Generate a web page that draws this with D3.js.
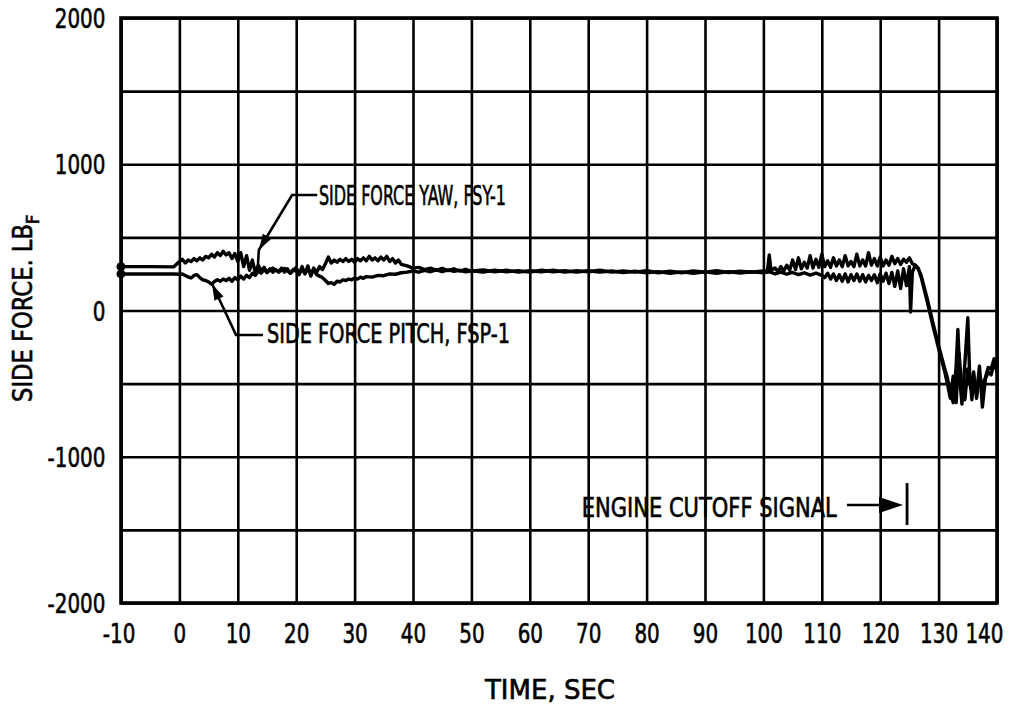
<!DOCTYPE html>
<html>
<head>
<meta charset="utf-8">
<script src="https://cdn.jsdelivr.net/npm/d3@7/dist/d3.min.js"></script>
<style>
  html, body { margin: 0; padding: 0; background: #fff; }
  svg { display: block; }
  text { font-family: "DejaVu Sans Condensed", "DejaVu Sans", sans-serif; font-weight: normal; fill: #000; stroke: #000; stroke-width: 0.6px; }
</style>
</head>
<body>
<svg id="chart" width="1027" height="707"></svg>
<script>
// ---------- data ----------
const xTicks = [-10, 0, 10, 20, 30, 40, 50, 60, 70, 80, 90, 100, 110, 120, 130, 140];
const yGrid = [-2000, -1500, -1000, -500, 0, 500, 1000, 1500, 2000];
const yLabels = [-2000, -1000, 0, 1000, 2000];

// Side force yaw, FSY-1  [time s, force lbf]
const yawSeries = [
  [-10,300],[-5,300],[-1,298],[0,335],[0.5,350],[1,325],[1.5,345],[2,335],[2.5,355],[3,340],[3.5,360],[4,345],[4.5,370],
  [5,360],[5.5,385],[6,365],[6.5,395],[7,375],[7.5,405],[8,380],[8.5,395],[9,355],[9.5,390],[10,335],[10.5,395],
  [11,300],[11.5,375],[12,275],[12.5,345],[13,255],[13.5,310],[14,270],[14.5,295],[15,260],[16,290],[17,262],[18,288],
  [19,255],[20,295],[20.5,245],[21,300],[21.5,250],[22,305],[22.5,235],[23,290],[23.5,260],[24,300],[24.5,280],[25,320],
  [25.5,365],[26,325],[26.5,345],[27,330],[27.5,350],[28,335],[28.5,355],[29,335],[29.5,350],[30,330],[30.5,355],[31,340],
  [31.5,360],[32,340],[32.5,370],[33,345],[33.5,360],[34,340],[34.5,365],[35,345],[35.5,370],[36,335],[36.5,355],[37,325],
  [37.5,345],[38,315],[39,305],[40,290],[41,295],[42,280],[43,290],[44,275],[45,288],[46,272],[47,285],[48,270],[49,282],
  [50,268],[52,278],[54,265],[56,275],[58,262],[60,272],[62,265],[64,275],[66,262],[68,272],[70,265],[72,275],[74,262],
  [76,270],[78,262],[80,272],[82,258],[84,268],[86,258],[88,270],[90,262],[92,272],[94,260],[96,268],[98,262],[100,270],
  [100.7,272],[101,380],[101.3,275],[102,290],[102.5,265],[103,300],[103.5,270],[104,310],[104.5,275],[105,345],[105.5,280],
  [106,360],[106.5,285],[107,330],[107.5,290],[108,375],[108.5,290],[109,350],[109.5,295],[110,385],[110.5,300],[111,340],
  [111.5,295],[112,360],[112.5,305],[113,345],[113.5,300],[114,375],[114.5,305],[115,335],[115.5,300],[116,385],[116.5,305],
  [117,345],[117.5,305],[118,395],[118.5,310],[119,355],[119.5,305],[120,365],[120.5,305],[121,345],[121.5,310],[122,370],
  [122.5,320],[123,355],[123.5,315],[124,350],[124.5,330],[125,360],[125.5,320],[126,310],[126.5,285],[127,240],[128,90],
  [129,-80],[130,-240],[131,-390],[131.5,-460],[132,-560],[132.5,-630],[133,-380],[133.3,-130],[133.7,-500],[134,-640],
  [134.5,-360],[135,-50],[135.3,-420],[135.7,-610],[136,-470],[136.5,-570],[137,-380],[137.5,-660],[138,-470],[138.5,-420],
  [139,-440],[139.5,-350],[140,-420]
];

// Side force pitch, FSP-1  [time s, force lbf]
const pitchSeries = [
  [-10,250],[-5,250],[-1,250],[0,248],[0.5,250],[1,240],[1.5,230],[2,222],[2.5,240],[3,245],[3.5,225],[4,210],[4.5,205],
  [5,195],[5.5,180],[6,198],[6.5,210],[7,200],[7.5,215],[8,205],[8.5,220],[9,200],[9.5,225],[10,210],[10.5,235],[11,215],
  [11.5,240],[12,225],[12.5,255],[13,240],[13.5,270],[14,255],[14.5,280],[15,260],[15.5,285],[16,262],[16.5,280],[17,265],
  [17.5,290],[18,262],[18.5,285],[19,255],[19.5,280],[20,268],[20.5,250],[21,285],[21.5,255],[22,280],[22.5,260],[23,275],
  [23.5,245],[24,235],[24.5,225],[25,205],[25.5,185],[26,190],[26.5,180],[27,200],[27.5,195],[28,210],[28.5,205],[29,215],
  [29.5,210],[30,222],[30.5,215],[31,228],[31.5,220],[32,232],[33,228],[34,240],[35,238],[36,250],[37,248],[38,258],
  [39,262],[40,270],[41,262],[42,275],[43,265],[44,278],[45,265],[46,278],[47,268],[48,275],[49,265],[50,272],[52,262],
  [54,275],[56,265],[58,272],[60,262],[62,275],[64,265],[66,272],[68,262],[70,272],[72,262],[74,270],[76,260],[78,268],
  [80,258],[82,266],[84,255],[86,264],[88,255],[90,265],[92,255],[94,266],[96,256],[98,265],[100,258],[101,265],[102,250],
  [103,262],[104,248],[105,260],[106,245],[107,258],[108,242],[109,255],[110,240],[110.5,225],[111,255],[111.5,215],
  [112,250],[112.5,205],[113,245],[113.5,200],[114,250],[114.5,195],[115,245],[115.5,205],[116,250],[116.5,200],[117,245],
  [117.5,195],[118,240],[118.5,205],[119,245],[119.5,190],[120,250],[120.5,200],[121,255],[121.5,185],[122,260],[122.5,165],
  [123,270],[123.5,150],[124,285],[124.5,170],[125,300],[125.2,-10],[125.5,260],[126,310],[126.5,290],[127,230],[128,70],
  [129,-100],[130,-260],[131,-410],[131.5,-500],[132,-600],[132.5,-450],[133,-630],[133.5,-290],[134,-560],[134.5,-610],
  [135,-400],[135.5,-530],[136,-420],[136.5,-600],[137,-430],[137.5,-530],[138,-460],[138.5,-390],[139,-400],[139.5,-330],
  [140,-370]
];

// annotations (data units)
const yawNote = { label: "SIDE FORCE YAW, FSY-1", text: [23.9, 721], path: [[23.6, 790], [19.3, 790], [13.6, 414], [13.45, 311]] };
const pitchNote = { label: "SIDE FORCE PITCH, FSP-1", text: [15.0, -222], path: [[14.3, -168], [9.7, -168], [5.6, 181]] };
const cutoffNote = { label: "ENGINE CUTOFF SIGNAL", text: [68.9, -1412], arrowFrom: [114.3, -1330], arrowTo: [123.9, -1330], bar: [124.6, -1180, -1467] };

// ---------- layout ----------
const margin = { left: 121, right: 1027 - 997, top: 18, bottom: 707 - 603 };
const W = 1027, H = 707;
const iw = W - margin.left - margin.right;
const ih = H - margin.top - margin.bottom;

const svg = d3.select("#chart");
const g = svg.append("g").attr("transform", `translate(${margin.left},${margin.top})`);

const x = d3.scaleLinear().domain([-10, 140]).range([0, iw]);
const y = d3.scaleLinear().domain([-2000, 2000]).range([ih, 0]);

// vertical grid + x tick labels
const xAxis = d3.axisBottom(x).tickValues(xTicks).tickSize(-ih).tickPadding(0).tickFormat(d3.format("d"));
const gx = g.append("g").attr("transform", `translate(0,${ih})`).call(xAxis);
gx.select(".domain").remove();
gx.selectAll(".tick line").attr("stroke", "#000").attr("stroke-width", 2.6);
gx.selectAll(".tick text")
  .attr("y", 40).attr("dy", 0)
  .attr("font-size", 27)
  .attr("text-anchor", "middle")
  .attr("transform", "scale(0.82,1)")
  .attr("x", d => d === 140 ? -16 : (d === -10 ? -3 : 0))
  .text(d => String(d));

// horizontal grid + y tick labels
const yAxis = d3.axisLeft(y).tickValues(yGrid).tickSize(-iw).tickPadding(0)
  .tickFormat(d => yLabels.includes(d) ? String(d) : "");
const gy = g.append("g").call(yAxis);
gy.select(".domain").remove();
gy.selectAll(".tick line").attr("stroke", "#000").attr("stroke-width", 2.6);
gy.selectAll(".tick text")
  .attr("x", -19).attr("dy", "0.36em")
  .attr("font-size", 27)
  .attr("text-anchor", "end")
  .attr("transform", "scale(0.82,1)");

// frame
g.append("rect").attr("x", 0).attr("y", 0).attr("width", iw).attr("height", ih)
  .attr("fill", "none").attr("stroke", "#000").attr("stroke-width", 3.6);

// data lines
const line = d3.line().x(d => x(d[0])).y(d => y(d[1]));
[yawSeries, pitchSeries].forEach(s => {
  g.append("path").datum(s).attr("d", line)
    .attr("fill", "none").attr("stroke", "#000").attr("stroke-width", 3.4)
    .attr("stroke-linejoin", "round").attr("stroke-linecap", "round");
  g.append("circle").attr("cx", x(s[0][0])).attr("cy", y(s[0][1])).attr("r", 4.5).attr("fill", "#000");
});

// annotation helpers
function arrowHead(tip, from, len, half) {
  const dx = tip[0] - from[0], dy = tip[1] - from[1];
  const L = Math.hypot(dx, dy), ux = dx / L, uy = dy / L;
  const bx = tip[0] - ux * len, by = tip[1] - uy * len;
  return [[tip[0], tip[1]], [bx - uy * half, by + ux * half], [bx + uy * half, by - ux * half]];
}
const P = d => [x(d[0]), y(d[1])];

// yaw leader
{
  const pts = yawNote.path.map(P);
  g.append("path").attr("d", d3.line()(pts)).attr("fill", "none").attr("stroke", "#000").attr("stroke-width", 2.6);
  g.append("path").attr("d", d3.line()(arrowHead(pts[2], pts[1], 16, 5)) + "Z").attr("fill", "#000");
  g.append("text").attr("x", x(yawNote.text[0])).attr("y", y(yawNote.text[1]))
    .attr("font-size", 26).attr("textLength", 187).attr("lengthAdjust", "spacingAndGlyphs").text(yawNote.label);
}
// pitch leader
{
  const pts = pitchNote.path.map(P);
  g.append("path").attr("d", d3.line()(pts)).attr("fill", "none").attr("stroke", "#000").attr("stroke-width", 2.6);
  g.append("path").attr("d", d3.line()(arrowHead(pts[2], pts[1], 16, 5)) + "Z").attr("fill", "#000");
  g.append("text").attr("x", x(pitchNote.text[0])).attr("y", y(pitchNote.text[1]))
    .attr("font-size", 26).attr("textLength", 243).attr("lengthAdjust", "spacingAndGlyphs").text(pitchNote.label);
}
// engine cutoff
{
  const a = P(cutoffNote.arrowFrom), b = P(cutoffNote.arrowTo);
  g.append("line").attr("x1", a[0]).attr("y1", a[1]).attr("x2", b[0] - 18).attr("y2", b[1])
    .attr("stroke", "#000").attr("stroke-width", 2.6);
  g.append("path").attr("d", d3.line()(arrowHead(b, a, 24, 8)) + "Z").attr("fill", "#000");
  g.append("line").attr("x1", x(cutoffNote.bar[0])).attr("x2", x(cutoffNote.bar[0]))
    .attr("y1", y(cutoffNote.bar[1])).attr("y2", y(cutoffNote.bar[2]))
    .attr("stroke", "#000").attr("stroke-width", 2.8);
  g.append("text").attr("x", x(cutoffNote.text[0])).attr("y", y(cutoffNote.text[1]))
    .attr("font-size", 26).attr("textLength", 255).attr("lengthAdjust", "spacingAndGlyphs").text(cutoffNote.label);
}

// axis titles
const yt = svg.append("text").attr("transform", "translate(32,402) rotate(-90)").attr("font-size", 27);
yt.append("tspan").attr("textLength", 178).attr("lengthAdjust", "spacingAndGlyphs").text("SIDE FORCE. LB");
yt.append("tspan").attr("font-size", 18).attr("dy", 7).text("F");

svg.append("text").attr("x", 485).attr("y", 699).attr("font-size", 27)
  .attr("textLength", 130).attr("lengthAdjust", "spacingAndGlyphs").text("TIME, SEC");
</script>
</body>
</html>
